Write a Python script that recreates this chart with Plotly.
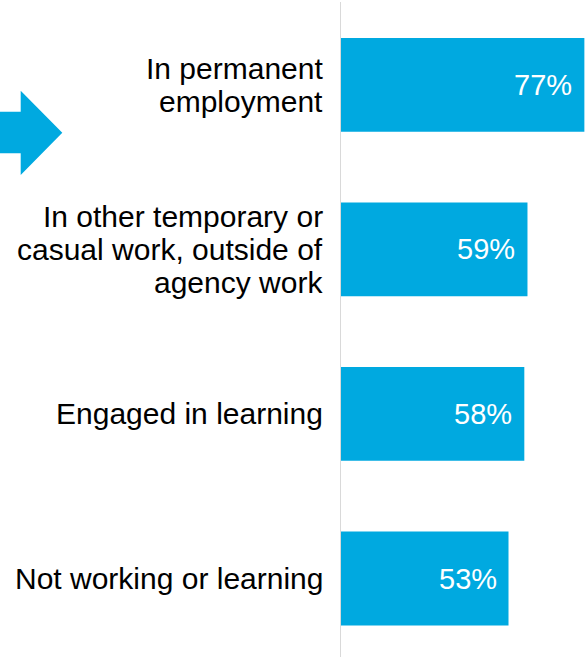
import plotly.graph_objects as go

# Share of respondents by current working status
categories = [
    "In permanent<br>employment",
    "In other temporary or<br>casual work, outside of<br>agency work",
    "Engaged in learning",
    "Not working or learning",
]
values = [77, 59, 58, 53]
value_labels = ["77%", "59%", "58%", "53%"]

BLUE = "#00A9E0"
FONT = "Liberation Sans, Arial, sans-serif"

W, H = 585, 657
M_L, M_R, M_T, M_B = 341, 0, 2, 0
PLOT_W = W - M_L - M_R
PLOT_H = H - M_T - M_B


def px_to_paper(px, py):
    return (px - M_L) / PLOT_W, 1 - (py - M_T) / PLOT_H


fig = go.Figure(
    go.Bar(
        x=values,
        y=categories,
        orientation="h",
        width=0.57,
        marker=dict(color=BLUE, line=dict(width=0)),
        hoverinfo="skip",
    )
)

annotations = []
LINE_GAP = 33
for cat in categories:
    lines = cat.split("<br>")
    n = len(lines)
    for i, line in enumerate(lines):
        annotations.append(
            dict(
                x=0, y=cat, xref="x", yref="y",
                text=line, showarrow=False,
                xanchor="right", yanchor="middle",
                xshift=-16, yshift=-(i - (n - 1) / 2) * LINE_GAP,
                font=dict(family=FONT, size=30, color="#000000"),
            )
        )

for cat, v, lab in zip(categories, values, value_labels):
    annotations.append(
        dict(
            x=v, y=cat, xref="x", yref="y",
            text=lab, showarrow=False,
            xanchor="right", yanchor="middle",
            xshift=-10,
            font=dict(family=FONT, size=29, color="#FFFFFF"),
        )
    )

# Pointer arrow beside the first category
arrow_pts = [(-5, 111.7), (20.7, 111.7), (20.7, 90.7), (62.3, 132.7),
             (20.7, 175), (20.7, 153.3), (-5, 153.3)]
path = ""
for k, (px, py) in enumerate(arrow_pts):
    ax, ay = px_to_paper(px, py)
    path += ("M" if k == 0 else "L") + f"{ax:.5f},{ay:.5f} "
path += "Z"

fig.update_layout(
    width=W, height=H,
    margin=dict(l=M_L, r=M_R, t=M_T, b=M_B, pad=0),
    paper_bgcolor="white", plot_bgcolor="white",
    showlegend=False,
    bargap=0.43,
    annotations=annotations,
    shapes=[dict(type="path", path=path, xref="paper", yref="paper",
                 fillcolor=BLUE, line=dict(width=0), layer="above")],
    xaxis=dict(range=[0, 77.2], visible=False, fixedrange=True),
    yaxis=dict(
        type="category",
        range=[3.477, -0.503],
        showticklabels=False, ticks="",
        showgrid=False, zeroline=False,
        showline=True, linecolor="#D9D9D9", linewidth=1,
        fixedrange=True,
    ),
)

fig.write_html("out.html", config={"displayModeBar": False})
